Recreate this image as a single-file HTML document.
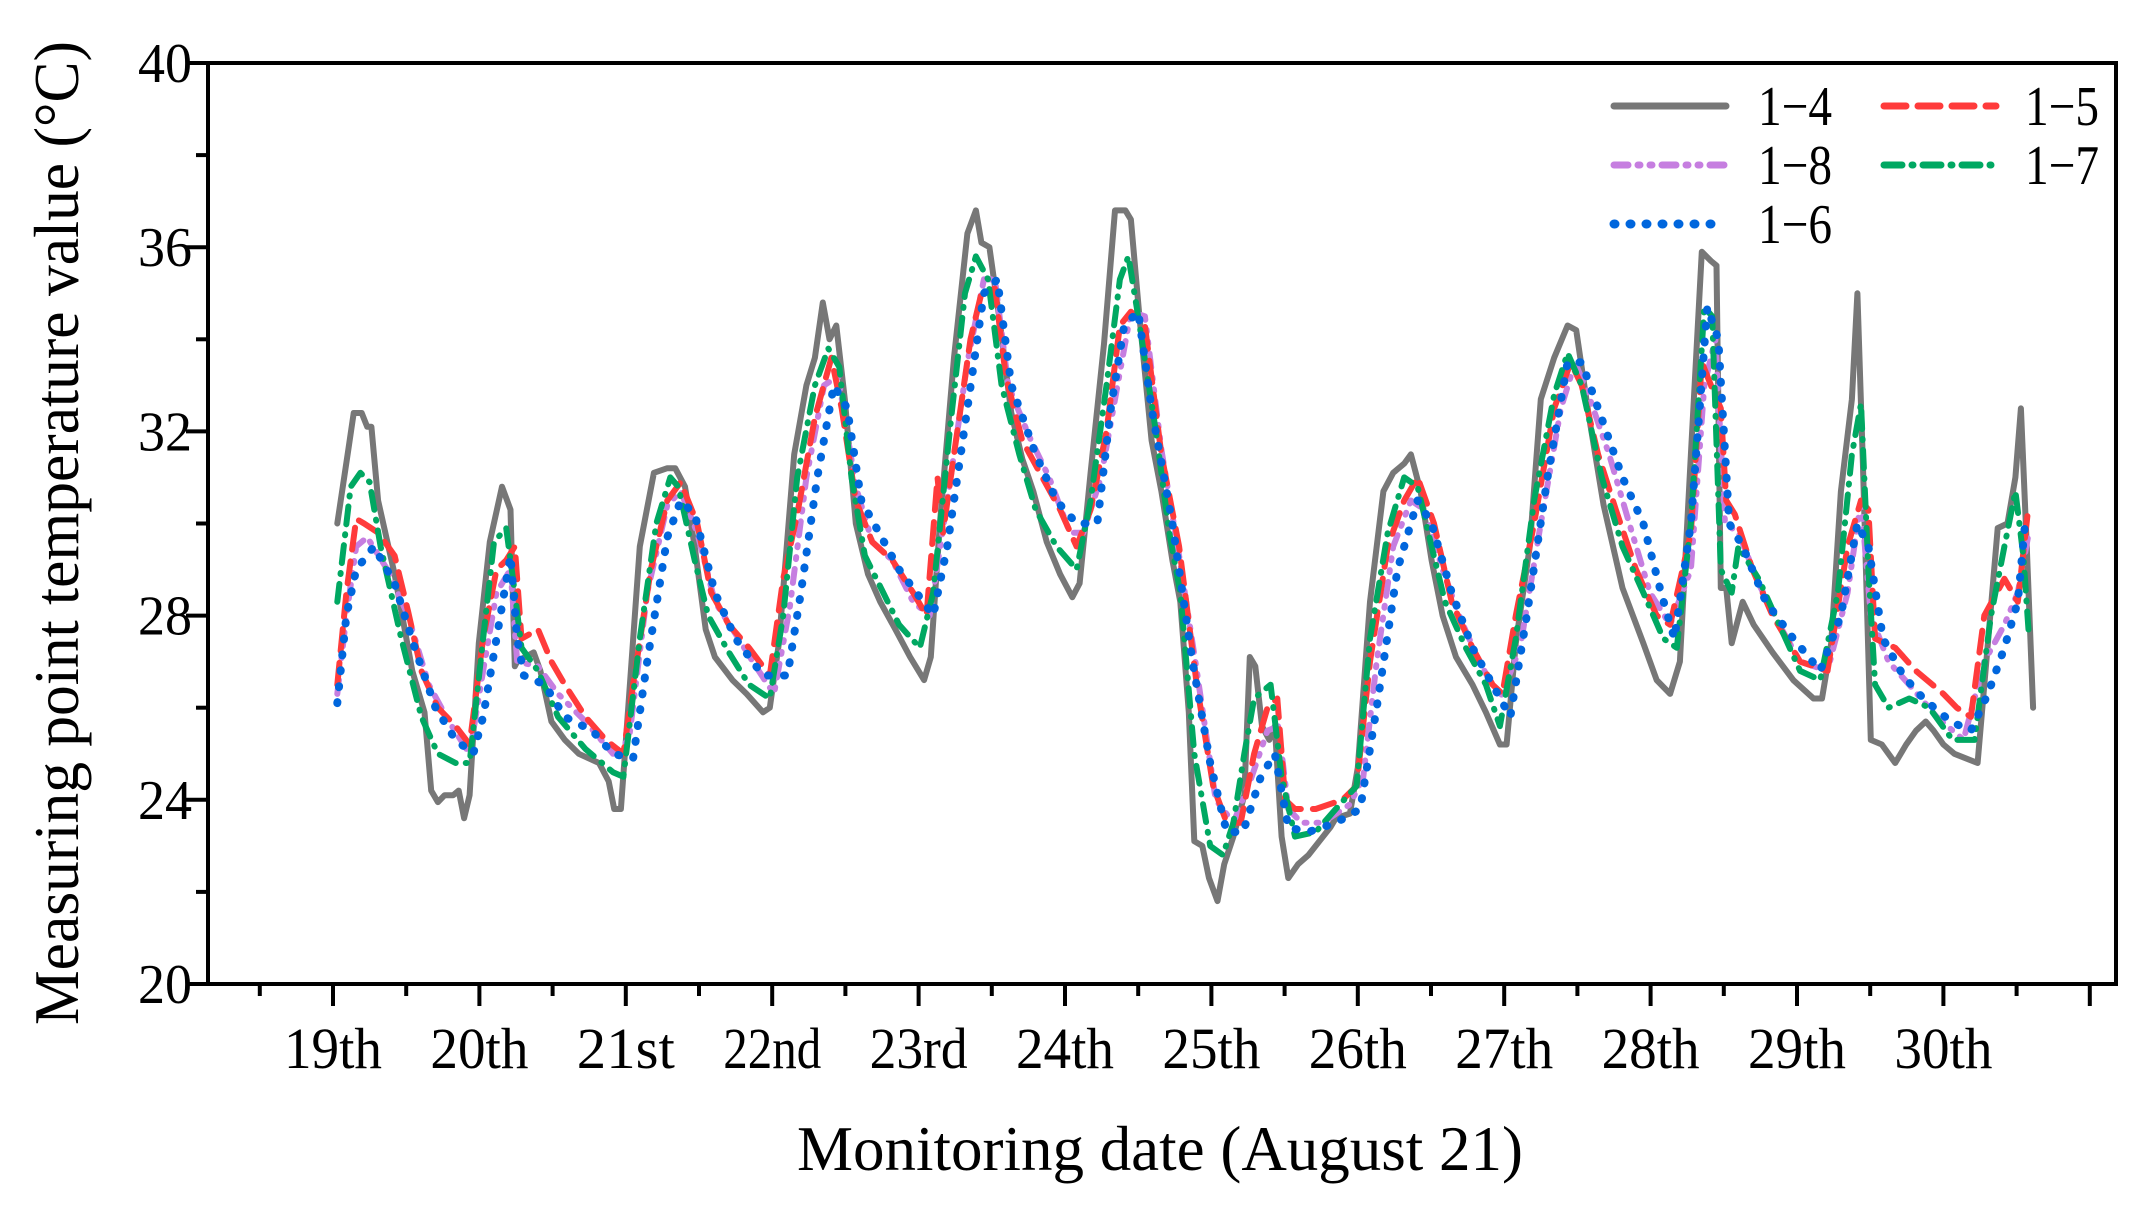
<!DOCTYPE html>
<html><head><meta charset="utf-8"><style>
html,body{margin:0;padding:0;background:#fff;}
svg{display:block;}
text{font-family:"Liberation Serif",serif;fill:#000;}
</style></head><body>
<svg id="chart" width="2138" height="1213" viewBox="0 0 2138 1213">
<g id="grid"></g>
<g id="series"></g>
<g id="legend"></g>
<text x="1160" y="1170" font-size="64" text-anchor="middle" textLength="726" lengthAdjust="spacingAndGlyphs">Monitoring date (August 21)</text>
<text transform="translate(78,533) rotate(-90)" font-size="64" text-anchor="middle" textLength="984" lengthAdjust="spacingAndGlyphs">Measuring point temperature value (°C)</text>
</svg>
<script>
// time in hours since Aug 19 00:00, values in °C
const dayLabels = ["19th","20th","21st","22nd","23rd","24th","25th","26th","27th","28th","29th","30th"];
const yTicks = [20,24,28,32,36,40];
const seriesNames = ["1−4","1−5","1−8","1−7","1−6"];

const t14 = [0.7,2.5,3.4,4.7,5.6,6.3,7.4,10.1,13.0,15.0,16.1,17.2,18.3,19.7,20.6,21.5,22.4,23.9,25.7,27.7,29.1,29.8,30.2,31.5,32.9,34.0,35.8,38.0,40.3,43.6,45.2,46.1,47.2,48.5,50.3,52.6,54.8,56.1,57.7,59.3,61.1,62.6,65.5,67.8,70.5,71.6,73.1,75.6,77.6,79.0,80.3,81.4,82.5,83.9,85.7,87.7,89.7,92.2,94.6,96.9,98.0,99.5,101.8,104.0,105.4,106.3,107.6,109.2,111.2,113.0,114.8,117.0,119.2,121.2,122.4,124.2,126.4,128.2,129.9,130.8,132.2,134.2,135.8,137.6,138.9,140.3,141.2,142.5,143.6,145.0,146.1,147.6,149.4,150.3,151.2,152.3,153.5,154.4,155.5,156.6,158.2,159.9,161.7,163.5,164.4,166.7,168.0,170.0,172.2,173.8,175.6,176.7,178.3,180.1,181.9,184.1,186.8,189.0,191.3,192.4,193.9,196.2,198.0,200.2,202.4,203.8,205.8,208.3,211.4,214.8,217.0,219.2,220.8,222.6,224.4,225.9,226.8,227.5,228.4,229.3,231.1,232.9,236.0,239.4,242.7,244.1,245.6,247.2,249.0,249.9,250.8,252.1,253.9,256.1,257.9,259.5,261.1,262.4,264.0,265.8,269.6,271.3,272.9,274.5,275.8,276.7,277.6,278.7];
const v14 = [30.0,31.6,32.4,32.4,32.1,32.1,30.5,28.9,26.8,25.9,24.2,23.95,24.1,24.1,24.2,23.6,24.1,27.4,29.6,30.8,30.3,26.9,27.0,27.1,27.2,26.8,25.7,25.3,25.0,24.8,24.4,23.8,23.8,26.2,29.5,31.1,31.2,31.2,30.8,29.5,27.7,27.1,26.6,26.3,25.9,26.0,27.4,31.5,33.0,33.6,34.8,34.0,34.3,32.7,30.0,28.9,28.3,27.7,27.1,26.6,27.1,30.0,33.6,36.3,36.8,36.1,36.0,34.5,32.4,31.4,30.7,29.6,28.9,28.4,28.7,31.1,33.9,36.8,36.8,36.6,34.5,31.8,30.7,29.2,28.3,25.9,23.1,23.0,22.3,21.8,22.6,23.2,24.1,27.1,26.9,25.6,25.3,25.6,23.2,22.3,22.6,22.8,23.1,23.4,23.6,23.7,24.7,28.3,30.7,31.1,31.3,31.5,30.7,29.2,28.0,27.1,26.5,25.9,25.2,25.2,27.4,29.5,32.7,33.6,34.3,34.2,32.4,30.4,28.6,27.4,26.6,26.3,27.0,31.5,35.9,35.7,35.6,28.6,28.6,27.4,28.3,27.8,27.2,26.6,26.2,26.2,27.4,30.7,32.7,35.0,31.3,25.3,25.2,24.8,25.2,25.5,25.7,25.5,25.2,25.0,24.8,27.4,29.9,30.0,31.0,32.5,29.7,26.0];

const t15 = [0.7,2.2,3.8,5.1,7.4,10.1,12.3,14.5,17.2,20.1,22.4,24.6,26.8,28.4,29.8,30.9,33.6,35.8,38.0,41.4,44.7,47.6,49.2,52.1,54.8,57.0,59.7,62.0,64.9,68.2,71.6,73.8,76.1,79.0,81.7,83.4,85.7,88.4,91.7,95.1,97.3,99.1,100.0,101.8,104.5,106.3,108.5,110.3,113.0,116.3,119.2,121.9,124.2,126.8,129.0,130.8,133.1,135.8,138.7,141.6,144.3,146.5,148.8,151.0,153.2,154.8,156.1,157.7,161.1,165.5,167.8,170.0,172.9,175.6,177.8,180.5,183.4,186.8,190.1,191.7,193.9,196.9,200.2,202.9,204.7,207.4,210.3,213.6,217.0,219.2,222.6,224.4,225.9,227.5,228.4,229.8,232.7,236.0,240.5,245.0,248.3,250.5,251.7,252.8,256.1,259.5,264.0,266.2,268.5,270.7,274.0,276.2,277.8];
const v15 = [26.5,28.5,30.1,30.0,29.8,29.3,28.1,26.8,26.0,25.6,25.2,27.5,29.0,29.2,29.5,27.5,27.7,27.0,26.5,25.8,25.3,25.0,26.5,29.0,30.5,30.9,30.0,28.5,27.8,27.3,26.7,28.8,30.2,32.3,33.6,32.5,30.5,29.6,29.2,28.5,28.0,31.0,29.8,31.5,34.0,35.0,35.1,33.2,31.8,31.0,30.3,29.5,30.3,32.0,34.3,34.6,34.3,31.5,29.5,26.5,24.3,23.5,23.5,25.0,26.0,26.2,24.0,23.8,23.8,24.0,24.3,27.0,29.5,30.5,31.0,30.0,28.3,27.3,26.5,26.3,28.0,30.0,32.5,33.5,33.0,31.5,30.3,29.0,28.0,27.8,29.8,33.5,33.0,32.5,30.5,30.2,29.0,28.0,27.0,26.8,29.5,30.5,30.3,27.5,27.3,26.8,26.3,26.0,25.8,28.0,28.8,28.3,30.2];

const t18 = [0.7,2.2,3.8,5.6,8.9,12.3,15.7,19.0,22.4,24.6,26.8,29.1,30.2,33.6,36.9,41.4,45.9,48.5,51.5,54.8,57.0,59.7,62.6,66.0,69.3,72.3,74.9,77.6,80.5,82.8,85.7,88.4,91.7,95.1,97.8,100.7,104.0,106.7,108.5,110.7,114.1,117.4,120.8,123.0,125.9,128.6,130.8,133.1,135.8,138.7,141.6,144.7,147.6,150.6,153.2,155.0,156.6,158.8,162.2,166.7,168.9,171.1,173.8,176.7,179.0,181.9,184.6,187.9,191.3,194.6,198.0,201.3,203.6,205.8,209.2,212.5,215.9,219.2,222.6,224.8,226.6,228.2,230.4,233.7,237.1,240.5,245.0,248.3,250.5,252.1,255.0,258.4,262.9,267.3,270.7,274.0,276.2,278.0];
const v18 = [26.3,28.0,29.5,29.7,29.0,28.0,26.5,25.7,25.0,26.8,28.5,29.0,27.0,26.9,26.3,25.7,25.0,25.3,28.5,30.4,30.7,29.8,28.3,27.6,26.9,26.3,28.2,31.0,33.0,33.2,30.8,29.6,29.2,28.3,28.0,30.5,33.5,35.3,35.3,33.0,31.9,31.0,29.8,29.8,31.0,33.0,34.6,34.5,31.6,29.3,26.8,24.0,23.5,24.5,25.5,25.6,23.8,23.5,23.5,23.9,24.5,27.0,29.5,30.5,30.3,29.0,28.0,27.0,26.2,27.3,30.0,32.5,33.5,32.8,31.5,30.0,28.5,27.8,29.0,33.0,34.0,30.0,29.8,28.7,27.8,27.0,26.8,28.5,30.5,28.0,27.0,26.5,25.8,25.3,27.0,27.8,28.5,29.8];

const t17 = [0.7,2.9,4.5,6.0,7.8,11.2,14.5,17.2,20.1,22.4,24.6,26.4,28.4,29.8,30.9,33.6,36.9,41.4,45.9,47.6,50.3,53.0,55.3,56.6,59.3,61.5,64.9,68.2,71.6,73.8,76.1,79.0,81.2,83.0,85.0,87.2,90.2,92.8,96.2,98.4,101.1,103.6,105.4,107.4,109.6,112.5,115.2,118.6,121.9,124.2,126.8,129.0,130.4,132.0,134.9,137.1,138.9,141.2,143.8,145.9,147.6,149.4,151.0,153.7,155.5,157.7,161.1,164.4,167.8,170.0,172.9,175.6,177.8,180.1,182.3,185.7,189.0,191.3,193.9,196.9,200.2,202.4,204.7,208.0,211.4,214.8,218.1,220.3,222.6,224.8,226.1,227.5,229.3,230.4,233.7,237.1,240.5,243.8,246.7,249.0,250.5,251.7,252.8,255.0,258.4,261.7,265.5,269.1,271.8,274.0,275.8,277.1,278.0];
const v17 = [28.3,30.8,31.1,30.9,29.5,27.5,25.8,25.0,24.8,24.8,27.5,29.6,29.9,28.5,27.3,26.8,25.8,25.1,24.6,24.5,27.5,30.0,31.0,30.8,29.2,28.0,27.2,26.5,26.2,28.0,31.0,33.0,33.8,33.4,31.0,29.3,28.5,27.8,27.3,28.5,32.0,35.0,35.8,35.3,33.0,31.5,30.3,29.5,29.0,30.5,33.0,35.3,35.8,34.5,32.0,29.8,28.5,25.0,23.0,22.8,23.5,25.0,26.2,26.5,24.5,23.2,23.3,23.8,24.3,27.5,29.8,31.0,30.8,29.5,28.3,27.3,26.5,25.6,27.5,30.5,32.8,33.7,33.0,31.0,29.5,28.5,27.5,27.3,30.0,34.7,34.5,29.0,28.5,29.5,28.8,27.8,26.8,26.6,28.5,31.5,32.6,29.0,26.5,26.0,26.2,26.0,25.3,25.3,28.0,29.5,30.7,29.3,27.6];

const t16 = [0.7,2.2,3.8,6.7,10.1,13.4,16.8,20.1,23.0,24.6,26.8,29.1,30.2,31.3,34.7,38.0,42.5,45.9,49.2,51.5,54.8,57.0,59.3,62.6,66.0,70.5,74.5,76.7,79.4,82.1,84.3,86.6,89.5,92.8,96.2,98.4,100.7,104.0,106.7,108.9,111.2,115.2,118.6,121.9,125.3,127.5,129.7,132.0,134.2,137.6,140.9,143.8,146.5,149.2,152.1,154.4,156.6,159.9,164.4,168.4,171.1,174.5,177.8,180.1,183.4,186.8,190.1,193.0,195.7,199.1,202.4,204.7,207.4,211.4,214.8,217.7,219.9,222.6,225.3,227.1,228.9,231.1,234.9,239.4,243.8,247.2,249.9,251.7,254.1,257.4,260.7,265.2,268.5,271.3,274.0,276.2,277.4];
const v16 = [26.1,28.0,29.0,29.5,28.7,27.3,26.0,25.3,25.0,25.8,27.5,29.3,27.5,26.7,26.5,25.8,25.5,25.0,24.9,27.0,29.7,30.5,30.2,28.5,27.5,26.7,26.7,28.5,31.0,33.0,32.5,30.5,29.8,29.0,28.4,28.0,29.5,32.5,35.0,35.3,33.0,31.5,30.5,30.0,30.0,32.5,34.3,34.6,32.5,30.0,27.0,24.8,23.3,23.3,24.5,25.0,23.4,23.3,23.5,23.8,26.0,29.0,30.5,30.0,28.5,27.3,26.5,25.8,28.0,31.0,33.5,33.5,32.5,31.0,30.0,28.5,27.5,30.0,34.7,34.0,30.0,29.5,28.3,27.5,26.8,28.0,30.0,29.5,27.5,26.7,26.2,25.7,25.5,26.3,27.3,28.3,30.0];

const NS='http://www.w3.org/2000/svg';
const L=208,R=2116,T=63,B=984;
const X0=333, DAYPX=146.4;
function xs(h){return X0 + h/24*DAYPX;}
function ys(v){return T + (40-v)*(B-T)/20;}
function mk(tag,attrs,parent){const e=document.createElementNS(NS,tag);for(const k in attrs)e.setAttribute(k,attrs[k]);parent.appendChild(e);return e;}
const grid=document.getElementById('grid');
const ser=document.getElementById('series');
const leg=document.getElementById('legend');

const frame=mk('rect',{x:L,y:T,width:R-L,height:B-T,fill:'none',stroke:'#000','stroke-width':4},grid);



for(let v=20;v<=40;v+=2){
  const major=(v%4===0);
  const tk=mk('line',{x1:L-(major?22:12),x2:L,y1:ys(v),y2:ys(v),stroke:'#000','stroke-width':4},grid);
  
  
}
yTicks.forEach(v=>{
  const t=mk('text',{x:192,y:ys(v)+19,'font-size':56,'text-anchor':'end',textLength:54,lengthAdjust:'spacingAndGlyphs'},grid);
  t.textContent=String(v);
  
  
});
for(let k=-1;k<=24;k++){
  const h=k*12;
  const major=(k%2===0);
  const tk=mk('line',{x1:xs(h),x2:xs(h),y1:B,y2:B+(major?22:12),stroke:'#000','stroke-width':4},grid);
  
  
}
dayLabels.forEach((d,i)=>{
  const t=mk('text',{x:xs(i*24),y:1068,'font-size':58,'text-anchor':'middle',textLength:(d.length>4?112:98),lengthAdjust:'spacingAndGlyphs'},grid);
  t.textContent=d;
  
  
});

const styles=[
  {t:t14,v:v14,c:'#777777',w:6,d:''},
  {t:t15,v:v15,c:'#ff3b3b',w:6,d:'22 12'},
  {t:t18,v:v18,c:'#c67ee0',w:6,d:'14 10 2 10 2 10'},
  {t:t17,v:v17,c:'#00a862',w:6,d:'18 10 1 10'},
  {t:t16,v:v16,c:'#0066dd',w:8,d:'1 15'}
];
const names=['series-1-4','series-1-5','series-1-8','series-1-7','series-1-6'];
const order=[0,2,1,3,4];
order.forEach(i=>{
  const s=styles[i];
  const pts=s.t.map((h,j)=>xs(h).toFixed(1)+','+ys(s.v[j]).toFixed(1)).join(' ');
  const p=mk('polyline',{points:pts,fill:'none',stroke:s.c,'stroke-width':s.w,'stroke-linejoin':'round','stroke-linecap':'round'},ser);
  if(s.d)p.setAttribute('stroke-dasharray',s.d);
  
  
});

const legPos=[[0,1614,1758,106],[1,1884,2025,106],[2,1614,1758,165],[3,1884,2025,165],[4,1614,1758,224]];
legPos.forEach(([i,sx,lx,y])=>{
  const s=styles[i];
  const ln=mk('line',{x1:sx,x2:sx+112,y1:y,y2:y,stroke:s.c,'stroke-width':s.w+1,'stroke-linecap':'round'},leg);
  if(s.d)ln.setAttribute('stroke-dasharray',s.d);
  
  
  const t=mk('text',{x:lx,y:y+19,'font-size':56,textLength:74,lengthAdjust:'spacingAndGlyphs'},leg);
  t.textContent=seriesNames[i];
  
  
});
</script>
</body></html>
